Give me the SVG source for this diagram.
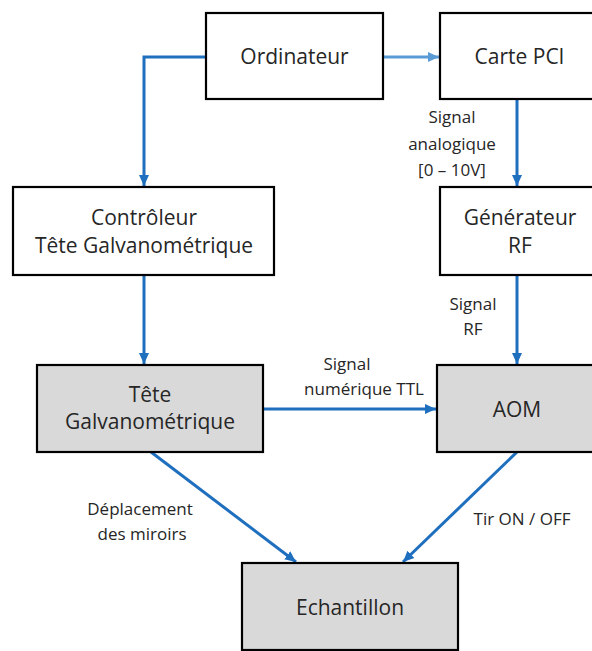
<svg xmlns="http://www.w3.org/2000/svg" width="592" height="651" viewBox="0 0 592 651">
<defs>
<style>
.box{fill:#fff;stroke:#000;stroke-width:2.2}
.grey{fill:#d9d9d9;stroke:#000;stroke-width:2.2}
.nt{font-family:"Open Sans","Noto Sans",sans-serif;font-size:21px;fill:#262626;text-anchor:middle}
.lt{font-family:"Open Sans","Noto Sans",sans-serif;font-size:17px;fill:#262626;text-anchor:middle}
.c{fill:none;stroke:#1f6fbf;stroke-width:3}
.cl{fill:none;stroke:#5b9bd5;stroke-width:3}
</style>
<marker id="ah" markerUnits="userSpaceOnUse" markerWidth="12" markerHeight="12" viewBox="0 0 12 12" refX="11" refY="6" orient="auto">
<path d="M0,1 L11,6 L0,11 Z" fill="#1f6fbf"/>
</marker>
<marker id="ahl" markerUnits="userSpaceOnUse" markerWidth="12" markerHeight="12" viewBox="0 0 12 12" refX="11" refY="6" orient="auto">
<path d="M0,1 L11,6 L0,11 Z" fill="#5b9bd5"/>
</marker>
</defs>
<rect width="592" height="651" fill="#fff"/>
<g id="connectors">
<path class="cl" d="M383,57 H439" marker-end="url(#ahl)"/>
<path class="c" d="M206,57 H144 V186" marker-end="url(#ah)"/>
<path class="c" d="M517,99 V186" marker-end="url(#ah)"/>
<path class="c" d="M144,275 V364" marker-end="url(#ah)"/>
<path class="c" d="M517,275 V364" marker-end="url(#ah)"/>
<path class="c" d="M263,409 H436" marker-end="url(#ah)"/>
<path class="c" d="M151,452 L296,562" marker-end="url(#ah)"/>
<path class="c" d="M517,452 L403,562" marker-end="url(#ah)"/>
</g>
<g id="labels">
<text class="lt" x="452" y="123">Signal</text>
<text class="lt" x="452" y="150">analogique</text>
<text class="lt" x="452" y="176">[0 – 10V]</text>
<text class="lt" x="473" y="310">Signal</text>
<text class="lt" x="473" y="335">RF</text>
<text class="lt" x="347" y="370">Signal</text>
<text class="lt" x="364" y="395">numérique TTL</text>
<text class="lt" x="140" y="515">Déplacement</text>
<text class="lt" x="142" y="540">des miroirs</text>
<text class="lt" x="522" y="525">Tir ON / OFF</text>
</g>
<g id="ordinateur">
<rect class="box" x="206" y="13" width="177" height="86"/>
<text class="nt" x="294.5" y="64">Ordinateur</text>
</g>
<g id="carte-pci">
<rect class="box" x="440" y="13" width="159" height="86"/>
<text class="nt" x="519.5" y="64">Carte PCI</text>
</g>
<g id="controleur">
<rect class="box" x="13" y="187" width="261" height="88"/>
<text class="nt" x="144" y="225">Contrôleur</text>
<text class="nt" x="144" y="253">Tête Galvanométrique</text>
</g>
<g id="generateur">
<rect class="box" x="440" y="187" width="159" height="88"/>
<text class="nt" x="520" y="225">Générateur</text>
<text class="nt" x="520" y="253">RF</text>
</g>
<g id="tete">
<rect class="grey" x="37" y="365" width="226" height="87"/>
<text class="nt" x="150" y="402">Tête</text>
<text class="nt" x="150" y="429">Galvanométrique</text>
</g>
<g id="aom">
<rect class="grey" x="437" y="365" width="162" height="87"/>
<text class="nt" x="517" y="417">AOM</text>
</g>
<g id="echantillon">
<rect class="grey" x="242" y="563" width="216" height="87"/>
<text class="nt" x="350" y="615">Echantillon</text>
</g>
</svg>
